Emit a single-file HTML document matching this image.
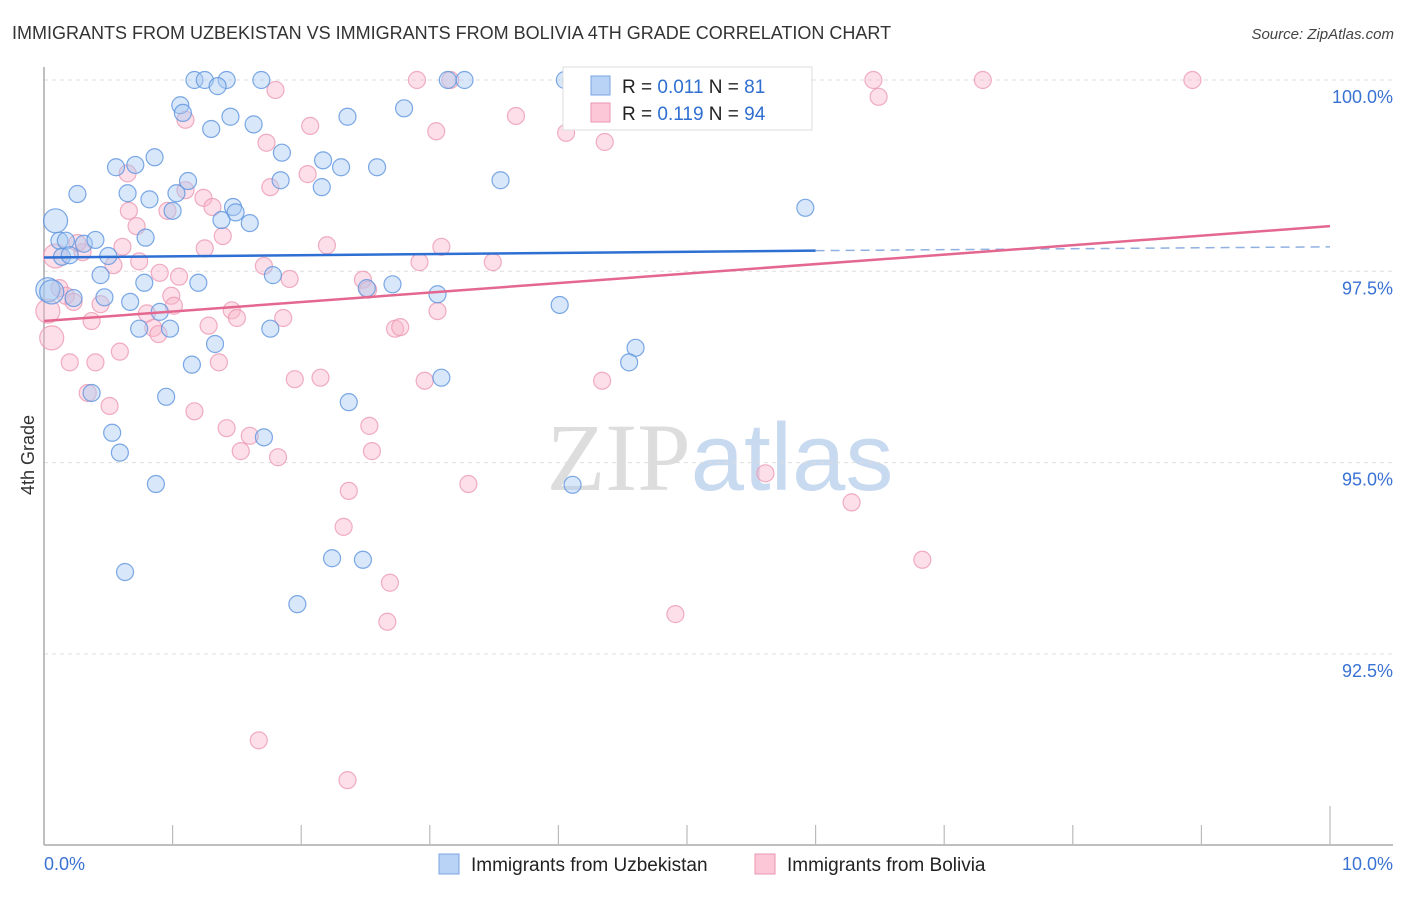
<!DOCTYPE html>
<html><head><meta charset="utf-8"><style>
body{margin:0;background:#fff;font-family:"Liberation Sans",sans-serif;}
svg text{font-family:"Liberation Sans",sans-serif;}
</style></head><body>
<svg id="chart" width="1406" height="892" xmlns="http://www.w3.org/2000/svg">
<text x="12" y="39" font-size="18" fill="#333">IMMIGRANTS FROM UZBEKISTAN VS IMMIGRANTS FROM BOLIVIA 4TH GRADE CORRELATION CHART</text>
<text x="1394" y="39" font-size="15" fill="#444" text-anchor="end" font-style="italic">Source: ZipAtlas.com</text>
<text x="720" y="490" font-size="96" text-anchor="middle"><tspan fill="#ddd" font-family="Liberation Serif">ZIP</tspan><tspan fill="#c8daf0">atlas</tspan></text>
<text transform="translate(34,455) rotate(-90)" font-size="18" fill="#333" text-anchor="middle">4th Grade</text>
<g id="grid"></g><g id="axes"></g><g id="marks"></g><g id="trends"></g>
<g>
<rect x="563" y="67" width="249" height="63" fill="#fff" stroke="#ddd"/>
<rect x="591" y="76" width="19" height="19" fill="#b8d3f5" stroke="#7aa6e0"/>
<text x="622" y="93" font-size="19" fill="#222">R = <tspan fill="#2f6fd0">0.011</tspan>   N = <tspan fill="#2f6fd0"> 81</tspan></text>
<rect x="591" y="103" width="19" height="19" fill="#fcc8d8" stroke="#eb96b0"/>
<text x="622" y="120" font-size="19" fill="#222">R = <tspan fill="#2f6fd0"> 0.119</tspan>   N = <tspan fill="#2f6fd0">94</tspan></text>
</g>
<g>
<rect x="439" y="854" width="20" height="20" fill="#b8d3f5" stroke="#7aa6e0"/>
<text x="471" y="871" font-size="19" fill="#222">Immigrants from Uzbekistan</text>
<rect x="755" y="854" width="20" height="20" fill="#fcc8d8" stroke="#eb96b0"/>
<text x="787" y="871" font-size="19" fill="#222">Immigrants from Bolivia</text>
</g>
</svg>
<script>
const xTicks=[0,1,2,3,4,5,6,7,8,9,10];
const yTicks=[100,97.5,95,92.5];
const yTickLabels=["100.0%","97.5%","95.0%","92.5%"];
const blueX=[1.17,1.25,1.42,1.69,3.14,3.27,4.05,1.35,1.06,1.08,2.80,1.45,2.36,1.30,1.63,1.85,0.86,0.56,0.71,2.17,2.31,2.59,3.55,1.12,0.26,0.65,0.82,1.03,1.84,2.16,1.47,1.49,1.00,1.38,1.60,5.92,0.09,0.79,0.12,0.17,0.31,0.40,0.14,0.20,0.50,0.44,1.20,1.78,0.78,0.03,0.06,0.23,0.47,0.67,0.90,0.74,0.98,1.76,2.51,2.71,3.06,4.01,1.33,4.60,4.55,1.15,3.09,0.37,0.95,2.37,0.53,1.71,0.59,0.87,4.11,2.24,2.48,0.63,1.97];
const blueY=[100,100,100,100,100,100,100,99.92,99.67,99.57,99.63,99.52,99.52,99.36,99.42,99.05,98.99,98.86,98.89,98.95,98.86,98.86,98.69,98.68,98.51,98.52,98.44,98.52,98.69,98.60,98.34,98.27,98.29,98.17,98.13,98.33,98.16,97.94,97.90,97.90,97.86,97.91,97.69,97.71,97.70,97.45,97.35,97.45,97.35,97.26,97.23,97.15,97.16,97.10,96.97,96.75,96.75,96.75,97.28,97.33,97.20,97.06,96.55,96.50,96.31,96.28,96.11,95.91,95.86,95.79,95.39,95.33,95.13,94.72,94.71,93.75,93.73,93.57,93.15];
const pinkX=[2.90,3.16,4.10,4.98,6.45,7.30,8.93,1.80,6.49,1.10,3.67,2.07,3.05,4.06,4.36,1.73,0.65,2.05,1.76,1.10,1.24,1.31,0.96,0.66,0.72,1.39,0.09,1.25,0.61,0.30,0.26,0.54,0.74,2.20,3.09,2.92,3.49,1.71,0.90,1.05,1.91,2.48,0.12,0.17,0.23,0.44,0.99,1.01,0.80,1.46,1.50,1.86,1.28,0.37,0.85,0.89,2.73,2.77,3.06,2.52,0.03,0.06,0.20,0.40,0.59,1.36,1.95,2.15,2.96,4.34,0.34,0.51,1.17,1.42,1.60,2.53,1.53,2.55,1.82,3.30,2.37,5.61,6.28,2.33,2.69,2.67,4.91,6.83,1.67,2.36];
const pinkY=[100,100,100,100,100,100,100,99.87,99.78,99.48,99.53,99.40,99.33,99.31,99.19,99.18,98.78,98.77,98.60,98.56,98.46,98.34,98.29,98.29,98.09,97.96,97.70,97.80,97.82,97.75,97.87,97.58,97.63,97.84,97.82,97.62,97.62,97.57,97.48,97.43,97.40,97.39,97.28,97.18,97.10,97.07,97.18,97.05,96.95,96.99,96.89,96.89,96.79,96.85,96.76,96.68,96.75,96.77,96.98,97.26,96.98,96.63,96.31,96.31,96.45,96.31,96.09,96.11,96.07,96.07,95.91,95.74,95.67,95.45,95.35,95.48,95.15,95.15,95.07,94.72,94.63,94.86,94.48,94.16,93.43,92.92,93.02,93.73,91.37,90.85];
const blueTrend=[[0,97.68],[6,97.77],[10,97.82]];
const pinkTrend=[[0,96.85],[10,98.09]];
const NS="http://www.w3.org/2000/svg";
const sx=v=>44+v*128.6;
const sy=v=>80+(100-v)*76.52;
function mk(tag,attrs,parent){const e=document.createElementNS(NS,tag);for(const k in attrs)e.setAttribute(k,attrs[k]);parent.appendChild(e);return e;}
const grid=document.getElementById('grid'),axes=document.getElementById('axes'),marks=document.getElementById('marks'),trends=document.getElementById('trends');
yTicks.forEach((t,i)=>{
 const l=mk('line',{x1:44,x2:1393,y1:sy(t),y2:sy(t),stroke:'#ddd','stroke-dasharray':'4,4'},grid);
 
 
 const tx=mk('text',{x:1393,y:sy(t)+23,'font-size':18,fill:'#3a72d4','text-anchor':'end'},axes);
 tx.textContent=yTickLabels[i];
 
 
});
const ax=mk('line',{x1:44,x2:44,y1:67,y2:845,stroke:'#aaa','stroke-width':1.5},axes);


const bx=mk('line',{x1:44,x2:1393,y1:845,y2:845,stroke:'#aaa','stroke-width':1.5},axes);


xTicks.forEach(t=>{if(t===0)return;
 const l=mk('line',{x1:sx(t),x2:sx(t),y1:t===10?806:825,y2:845,stroke:'#bbb','stroke-width':1.2},axes);
 
 
});
const x0=mk('text',{x:44,y:870,'font-size':18,fill:'#3a72d4'},axes);x0.textContent='0.0%';


const x1=mk('text',{x:1393,y:870,'font-size':18,fill:'#3a72d4','text-anchor':'end'},axes);x1.textContent='10.0%';


function dots(X,Y,fill,stroke,name){X.forEach((x,i)=>{
 const r=(x<0.1)?12:8.5;
 const c=mk('circle',{cx:sx(x),cy:sy(Y[i]),r:r,fill:fill,'fill-opacity':0.45,stroke:stroke,'stroke-opacity':0.8,'stroke-width':1.2},marks);
 
 
});}
dots(pinkX,pinkY,'#f9b8cc','#ec9ab4','bolivia-point');
dots(blueX,blueY,'#a9c9f2','#5d93de','uzbekistan-point');
const bs=mk('line',{x1:sx(blueTrend[0][0]),y1:sy(blueTrend[0][1]),x2:sx(blueTrend[1][0]),y2:sy(blueTrend[1][1]),stroke:'#2d6fd2','stroke-width':2.5},trends);


const bd=mk('line',{x1:sx(blueTrend[1][0]),y1:sy(blueTrend[1][1]),x2:sx(blueTrend[2][0]),y2:sy(blueTrend[2][1]),stroke:'#8fb0e0','stroke-width':1.5,'stroke-dasharray':'9,6'},trends);


const ps=mk('line',{x1:sx(pinkTrend[0][0]),y1:sy(pinkTrend[0][1]),x2:sx(pinkTrend[1][0]),y2:sy(pinkTrend[1][1]),stroke:'#e4678f','stroke-width':2.5},trends);


</script>
</body></html>
